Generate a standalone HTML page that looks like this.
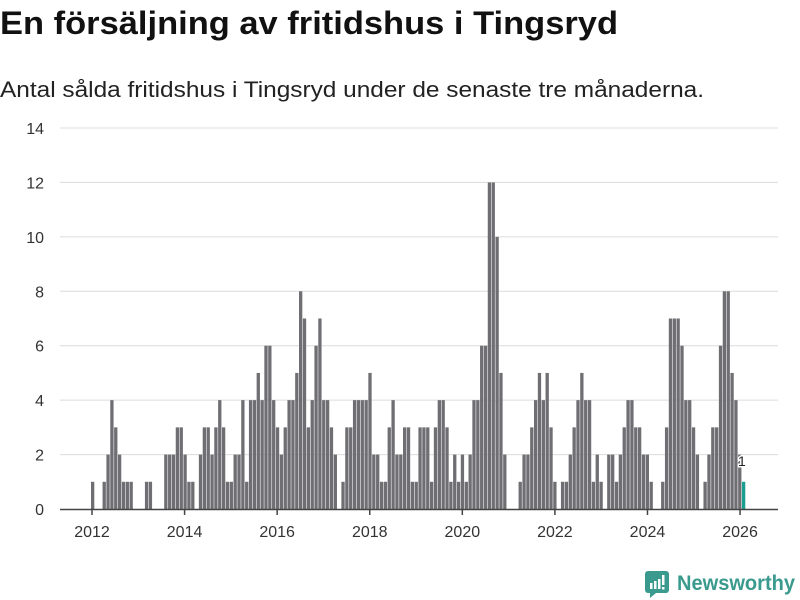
<!DOCTYPE html>
<html><head><meta charset="utf-8">
<style>
html,body{margin:0;padding:0;background:#fff;width:800px;height:600px;overflow:hidden;font-family:"Liberation Sans","DejaVu Sans",sans-serif;}
</style></head>
<body>
<svg id="chart" width="800" height="600" xmlns="http://www.w3.org/2000/svg">
<text x="0" y="34" font-size="32" font-weight="bold" fill="#111" textLength="618" lengthAdjust="spacingAndGlyphs">En försäljning av fritidshus i Tingsryd</text>
<text x="0" y="97" font-size="22" fill="#222" textLength="704" lengthAdjust="spacingAndGlyphs">Antal sålda fritidshus i Tingsryd under de senaste tre månaderna.</text>
<g id="grid"></g>
<g id="bars"></g>
<g id="xaxis"></g>
<g>
<rect x="645" y="571" width="24" height="22" rx="3" fill="#3a9a8e"/>
<polygon points="650,593 656,593 650,598" fill="#3a9a8e"/>
<rect x="650" y="583" width="2.5" height="6" fill="#fff"/><rect x="654" y="581" width="2.5" height="8" fill="#fff"/><rect x="658" y="579" width="2.5" height="10" fill="#fff"/><rect x="662" y="575" width="2.5" height="10" fill="#fff"/><rect x="662" y="587" width="2.5" height="2.5" fill="#fff"/>
<text x="677" y="590" font-size="21" font-weight="bold" fill="#3a9a8e" textLength="118" lengthAdjust="spacingAndGlyphs">Newsworthy</text>
</g>
</svg>
<script>
const values = [1,0,0,1,2,4,3,2,1,1,1,0,0,0,1,1,0,0,0,2,2,2,3,3,2,1,1,0,2,3,3,2,3,4,3,1,1,2,2,4,1,4,4,5,4,6,6,4,3,2,3,4,4,5,8,7,3,4,6,7,4,4,3,2,0,1,3,3,4,4,4,4,5,2,2,1,1,3,4,2,2,3,3,1,1,3,3,3,1,3,4,4,3,1,2,1,2,1,2,4,4,6,6,12,12,10,5,2,0,0,0,1,2,2,3,4,5,4,5,3,1,0,1,1,2,3,4,5,4,4,1,2,1,0,2,2,1,2,3,4,4,3,3,2,2,1,0,0,1,3,7,7,7,6,4,4,3,2,0,1,2,3,3,6,8,8,5,4,2,1];
const yTicks = [0,2,4,6,8,10,12,14];
const xYears = [2012,2014,2016,2018,2020,2022,2024,2026];
const NS="http://www.w3.org/2000/svg";
function y(v){return 509 - v*(381/14);}
function xBar(i){return 91 + i*3.852;}
function xYear(yr){return 92 + (yr-2012)*46.29;}
function mk(tag,attrs,parent){const e=document.createElementNS(NS,tag);for(const k in attrs)e.setAttribute(k,attrs[k]);parent.appendChild(e);return e;}
const grid=document.getElementById('grid'),bars=document.getElementById('bars'),xa=document.getElementById('xaxis');
yTicks.forEach(t=>{
  if(t>0){const l=mk('line',{x1:60,x2:778,y1:y(t),y2:y(t),stroke:'#dcdcdc','stroke-width':1},grid);
  
  }
  const tx=mk('text',{x:44,y:y(t)+6,'text-anchor':'end','font-size':16,fill:'#333'},grid);
  tx.textContent=t;
  
  
});
values.forEach((v,i)=>{
  if(v<=0)return;
  const last=i===values.length-1;
  const r=mk('rect',{x:xBar(i),y:y(v),width:3.3,height:509-y(v),fill:last?'#1a9e8f':'#6f6e73'},bars);
  
  
});
const li=values.length-1;
const lab=mk('text',{x:xBar(li)-4,y:y(values[li])-16,'font-size':14,fill:'#222',stroke:'#fff','stroke-width':3,'paint-order':'stroke'},bars);
lab.textContent=values[li];


const ax=mk('line',{x1:60,x2:778,y1:509.5,y2:509.5,stroke:'#444','stroke-width':1.5},xa);


xYears.forEach(yr=>{
  const tk=mk('line',{x1:xYear(yr),x2:xYear(yr),y1:509,y2:515,stroke:'#444','stroke-width':1.5},xa);
  
  
  const t=mk('text',{x:xYear(yr),y:537,'text-anchor':'middle','font-size':16,fill:'#333'},xa);
  t.textContent=yr;
  
  
});
</script>
</body></html>
